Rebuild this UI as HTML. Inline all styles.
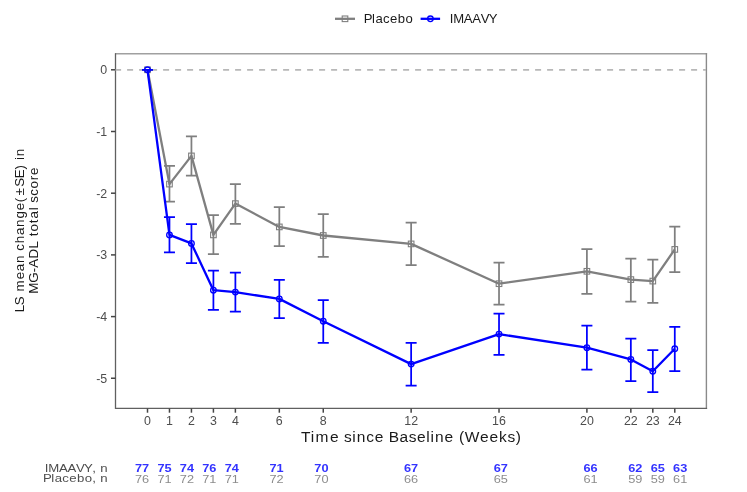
<!DOCTYPE html>
<html><head><meta charset="utf-8"><style>
html,body{margin:0;padding:0;background:#fff;}
body{width:747px;height:492px;overflow:hidden;font-family:"Liberation Sans",sans-serif;}
svg{display:block;will-change:transform;}
</style></head><body>
<svg width="747" height="492" viewBox="0 0 747 492">
<path d="M115 53.8H707.1" fill="none" stroke="#a0a0a0" stroke-width="1.4"/>
<path d="M706.4 53.2V409" fill="none" stroke="#8a8a8a" stroke-width="1.4"/>
<path d="M115.5 53.2V408.3H707.1" fill="none" stroke="#606060" stroke-width="1.3"/>
<path d="M115.1 69.9H706" stroke="#b8b8b8" stroke-width="1.6" stroke-dasharray="6 6" fill="none"/>
<path d="M111 69.80H115.5" stroke="#444" stroke-width="1.5"/>
<text x="107.2" y="74.30" text-anchor="end" font-size="12.4" fill="#4d4d4d" font-family="Liberation Sans, sans-serif">0</text>
<path d="M111 131.50H115.5" stroke="#444" stroke-width="1.5"/>
<text x="107.2" y="136.00" text-anchor="end" font-size="12.4" fill="#4d4d4d" font-family="Liberation Sans, sans-serif">-1</text>
<path d="M111 193.20H115.5" stroke="#444" stroke-width="1.5"/>
<text x="107.2" y="197.70" text-anchor="end" font-size="12.4" fill="#4d4d4d" font-family="Liberation Sans, sans-serif">-2</text>
<path d="M111 254.90H115.5" stroke="#444" stroke-width="1.5"/>
<text x="107.2" y="259.40" text-anchor="end" font-size="12.4" fill="#4d4d4d" font-family="Liberation Sans, sans-serif">-3</text>
<path d="M111 316.60H115.5" stroke="#444" stroke-width="1.5"/>
<text x="107.2" y="321.10" text-anchor="end" font-size="12.4" fill="#4d4d4d" font-family="Liberation Sans, sans-serif">-4</text>
<path d="M111 378.25H115.5" stroke="#444" stroke-width="1.5"/>
<text x="107.2" y="382.75" text-anchor="end" font-size="12.4" fill="#4d4d4d" font-family="Liberation Sans, sans-serif">-5</text>
<path d="M147.50 408.5V412.7" stroke="#444" stroke-width="1.5"/>
<text x="147.50" y="424.6" text-anchor="middle" font-size="12.4" fill="#4d4d4d" font-family="Liberation Sans, sans-serif">0</text>
<path d="M169.47 408.5V412.7" stroke="#444" stroke-width="1.5"/>
<text x="169.47" y="424.6" text-anchor="middle" font-size="12.4" fill="#4d4d4d" font-family="Liberation Sans, sans-serif">1</text>
<path d="M191.44 408.5V412.7" stroke="#444" stroke-width="1.5"/>
<text x="191.44" y="424.6" text-anchor="middle" font-size="12.4" fill="#4d4d4d" font-family="Liberation Sans, sans-serif">2</text>
<path d="M213.41 408.5V412.7" stroke="#444" stroke-width="1.5"/>
<text x="213.41" y="424.6" text-anchor="middle" font-size="12.4" fill="#4d4d4d" font-family="Liberation Sans, sans-serif">3</text>
<path d="M235.38 408.5V412.7" stroke="#444" stroke-width="1.5"/>
<text x="235.38" y="424.6" text-anchor="middle" font-size="12.4" fill="#4d4d4d" font-family="Liberation Sans, sans-serif">4</text>
<path d="M279.32 408.5V412.7" stroke="#444" stroke-width="1.5"/>
<text x="279.32" y="424.6" text-anchor="middle" font-size="12.4" fill="#4d4d4d" font-family="Liberation Sans, sans-serif">6</text>
<path d="M323.26 408.5V412.7" stroke="#444" stroke-width="1.5"/>
<text x="323.26" y="424.6" text-anchor="middle" font-size="12.4" fill="#4d4d4d" font-family="Liberation Sans, sans-serif">8</text>
<path d="M411.14 408.5V412.7" stroke="#444" stroke-width="1.5"/>
<text x="411.14" y="424.6" text-anchor="middle" font-size="12.4" fill="#4d4d4d" font-family="Liberation Sans, sans-serif">12</text>
<path d="M499.02 408.5V412.7" stroke="#444" stroke-width="1.5"/>
<text x="499.02" y="424.6" text-anchor="middle" font-size="12.4" fill="#4d4d4d" font-family="Liberation Sans, sans-serif">16</text>
<path d="M586.90 408.5V412.7" stroke="#444" stroke-width="1.5"/>
<text x="586.90" y="424.6" text-anchor="middle" font-size="12.4" fill="#4d4d4d" font-family="Liberation Sans, sans-serif">20</text>
<path d="M630.84 408.5V412.7" stroke="#444" stroke-width="1.5"/>
<text x="630.84" y="424.6" text-anchor="middle" font-size="12.4" fill="#4d4d4d" font-family="Liberation Sans, sans-serif">22</text>
<path d="M652.81 408.5V412.7" stroke="#444" stroke-width="1.5"/>
<text x="652.81" y="424.6" text-anchor="middle" font-size="12.4" fill="#4d4d4d" font-family="Liberation Sans, sans-serif">23</text>
<path d="M674.78 408.5V412.7" stroke="#444" stroke-width="1.5"/>
<text x="674.78" y="424.6" text-anchor="middle" font-size="12.4" fill="#4d4d4d" font-family="Liberation Sans, sans-serif">24</text>
<path d="M147.50 69.80V69.80M142.00 69.80H153.00M142.00 69.80H153.00" stroke="#7f7f7f" stroke-width="1.75" fill="none"/>
<path d="M169.47 165.90V201.70M163.97 165.90H174.97M163.97 201.70H174.97" stroke="#7f7f7f" stroke-width="1.75" fill="none"/>
<path d="M191.44 136.40V175.70M185.94 136.40H196.94M185.94 175.70H196.94" stroke="#7f7f7f" stroke-width="1.75" fill="none"/>
<path d="M213.41 215.10V254.10M207.91 215.10H218.91M207.91 254.10H218.91" stroke="#7f7f7f" stroke-width="1.75" fill="none"/>
<path d="M235.38 184.10V223.80M229.88 184.10H240.88M229.88 223.80H240.88" stroke="#7f7f7f" stroke-width="1.75" fill="none"/>
<path d="M279.32 207.20V246.20M273.82 207.20H284.82M273.82 246.20H284.82" stroke="#7f7f7f" stroke-width="1.75" fill="none"/>
<path d="M323.26 214.10V256.80M317.76 214.10H328.76M317.76 256.80H328.76" stroke="#7f7f7f" stroke-width="1.75" fill="none"/>
<path d="M411.14 222.50V265.20M405.64 222.50H416.64M405.64 265.20H416.64" stroke="#7f7f7f" stroke-width="1.75" fill="none"/>
<path d="M499.02 262.50V304.50M493.52 262.50H504.52M493.52 304.50H504.52" stroke="#7f7f7f" stroke-width="1.75" fill="none"/>
<path d="M586.90 249.00V293.80M581.40 249.00H592.40M581.40 293.80H592.40" stroke="#7f7f7f" stroke-width="1.75" fill="none"/>
<path d="M630.84 258.50V301.50M625.34 258.50H636.34M625.34 301.50H636.34" stroke="#7f7f7f" stroke-width="1.75" fill="none"/>
<path d="M652.81 259.50V302.80M647.31 259.50H658.31M647.31 302.80H658.31" stroke="#7f7f7f" stroke-width="1.75" fill="none"/>
<path d="M674.78 226.70V272.20M669.28 226.70H680.28M669.28 272.20H680.28" stroke="#7f7f7f" stroke-width="1.75" fill="none"/>
<polyline points="147.50,69.80 169.47,184.10 191.44,155.90 213.41,234.90 235.38,203.60 279.32,226.90 323.26,235.50 411.14,243.90 499.02,283.70 586.90,271.30 630.84,279.60 652.81,281.10 674.78,249.40" stroke="#7f7f7f" stroke-width="2.3" fill="none" stroke-linejoin="round"/>
<rect x="144.70" y="67.00" width="5.6" height="5.6" stroke="#7f7f7f" stroke-width="1.1" fill="none"/>
<rect x="166.67" y="181.30" width="5.6" height="5.6" stroke="#7f7f7f" stroke-width="1.1" fill="none"/>
<rect x="188.64" y="153.10" width="5.6" height="5.6" stroke="#7f7f7f" stroke-width="1.1" fill="none"/>
<rect x="210.61" y="232.10" width="5.6" height="5.6" stroke="#7f7f7f" stroke-width="1.1" fill="none"/>
<rect x="232.58" y="200.80" width="5.6" height="5.6" stroke="#7f7f7f" stroke-width="1.1" fill="none"/>
<rect x="276.52" y="224.10" width="5.6" height="5.6" stroke="#7f7f7f" stroke-width="1.1" fill="none"/>
<rect x="320.46" y="232.70" width="5.6" height="5.6" stroke="#7f7f7f" stroke-width="1.1" fill="none"/>
<rect x="408.34" y="241.10" width="5.6" height="5.6" stroke="#7f7f7f" stroke-width="1.1" fill="none"/>
<rect x="496.22" y="280.90" width="5.6" height="5.6" stroke="#7f7f7f" stroke-width="1.1" fill="none"/>
<rect x="584.10" y="268.50" width="5.6" height="5.6" stroke="#7f7f7f" stroke-width="1.1" fill="none"/>
<rect x="628.04" y="276.80" width="5.6" height="5.6" stroke="#7f7f7f" stroke-width="1.1" fill="none"/>
<rect x="650.01" y="278.30" width="5.6" height="5.6" stroke="#7f7f7f" stroke-width="1.1" fill="none"/>
<rect x="671.98" y="246.60" width="5.6" height="5.6" stroke="#7f7f7f" stroke-width="1.1" fill="none"/>
<path d="M147.50 69.80V69.80M142.00 69.80H153.00M142.00 69.80H153.00" stroke="#0000ff" stroke-width="1.75" fill="none"/>
<path d="M169.47 217.00V252.40M163.97 217.00H174.97M163.97 252.40H174.97" stroke="#0000ff" stroke-width="1.75" fill="none"/>
<path d="M191.44 224.20V263.10M185.94 224.20H196.94M185.94 263.10H196.94" stroke="#0000ff" stroke-width="1.75" fill="none"/>
<path d="M213.41 270.70V309.80M207.91 270.70H218.91M207.91 309.80H218.91" stroke="#0000ff" stroke-width="1.75" fill="none"/>
<path d="M235.38 272.60V311.60M229.88 272.60H240.88M229.88 311.60H240.88" stroke="#0000ff" stroke-width="1.75" fill="none"/>
<path d="M279.32 279.80V318.20M273.82 279.80H284.82M273.82 318.20H284.82" stroke="#0000ff" stroke-width="1.75" fill="none"/>
<path d="M323.26 300.10V342.80M317.76 300.10H328.76M317.76 342.80H328.76" stroke="#0000ff" stroke-width="1.75" fill="none"/>
<path d="M411.14 342.80V385.50M405.64 342.80H416.64M405.64 385.50H416.64" stroke="#0000ff" stroke-width="1.75" fill="none"/>
<path d="M499.02 313.50V354.80M493.52 313.50H504.52M493.52 354.80H504.52" stroke="#0000ff" stroke-width="1.75" fill="none"/>
<path d="M586.90 325.60V369.50M581.40 325.60H592.40M581.40 369.50H592.40" stroke="#0000ff" stroke-width="1.75" fill="none"/>
<path d="M630.84 338.70V381.00M625.34 338.70H636.34M625.34 381.00H636.34" stroke="#0000ff" stroke-width="1.75" fill="none"/>
<path d="M652.81 350.10V392.10M647.31 350.10H658.31M647.31 392.10H658.31" stroke="#0000ff" stroke-width="1.75" fill="none"/>
<path d="M674.78 326.80V371.20M669.28 326.80H680.28M669.28 371.20H680.28" stroke="#0000ff" stroke-width="1.75" fill="none"/>
<polyline points="147.50,69.80 169.47,234.90 191.44,243.40 213.41,290.20 235.38,292.10 279.32,298.90 323.26,321.20 411.14,364.10 499.02,334.10 586.90,347.70 630.84,359.40 652.81,371.20 674.78,348.80" stroke="#0000ff" stroke-width="2.3" fill="none" stroke-linejoin="round"/>
<circle cx="147.50" cy="69.80" r="2.8" stroke="#0000ff" stroke-width="1.3" fill="none"/>
<circle cx="169.47" cy="234.90" r="2.8" stroke="#0000ff" stroke-width="1.3" fill="none"/>
<circle cx="191.44" cy="243.40" r="2.8" stroke="#0000ff" stroke-width="1.3" fill="none"/>
<circle cx="213.41" cy="290.20" r="2.8" stroke="#0000ff" stroke-width="1.3" fill="none"/>
<circle cx="235.38" cy="292.10" r="2.8" stroke="#0000ff" stroke-width="1.3" fill="none"/>
<circle cx="279.32" cy="298.90" r="2.8" stroke="#0000ff" stroke-width="1.3" fill="none"/>
<circle cx="323.26" cy="321.20" r="2.8" stroke="#0000ff" stroke-width="1.3" fill="none"/>
<circle cx="411.14" cy="364.10" r="2.8" stroke="#0000ff" stroke-width="1.3" fill="none"/>
<circle cx="499.02" cy="334.10" r="2.8" stroke="#0000ff" stroke-width="1.3" fill="none"/>
<circle cx="586.90" cy="347.70" r="2.8" stroke="#0000ff" stroke-width="1.3" fill="none"/>
<circle cx="630.84" cy="359.40" r="2.8" stroke="#0000ff" stroke-width="1.3" fill="none"/>
<circle cx="652.81" cy="371.20" r="2.8" stroke="#0000ff" stroke-width="1.3" fill="none"/>
<circle cx="674.78" cy="348.80" r="2.8" stroke="#0000ff" stroke-width="1.3" fill="none"/>
<text x="300.93 310.75 315.62 329.96 339.27 343.98 352.26 356.67 366.18 374.68 384.00 388.68 399.50 408.63 416.91 426.35 430.61 435.02 444.60 453.91 458.91 464.75 480.06 489.50 499.10 507.53 515.82" y="441.9" font-size="15.5" fill="#1a1a1a" font-family="Liberation Sans, sans-serif">Time since Baseline (Weeks)</text>
<g transform="translate(23.7 230.25) rotate(-90)"><text x="-82.06 -74.97 -66.10 -61.32 -49.02 -40.94 -32.75 -24.62 -20.41 -13.00 -4.80 3.39 11.73 19.95 28.06 34.68 43.58 51.90 60.86 65.89 70.18 73.93" y="0" font-size="13.4" fill="#1a1a1a" font-family="Liberation Sans, sans-serif">LS mean change(±SE) in</text></g>
<g transform="translate(37.7 230.25) rotate(-90)"><text x="-63.59 -52.46 -42.01 -37.38 -28.18 -18.35 -10.73 -6.06 -1.32 7.14 11.88 19.98 23.52 27.55 34.59 41.85 50.07 55.32" y="0" font-size="13.4" fill="#1a1a1a" font-family="Liberation Sans, sans-serif">MG-ADL total score</text></g>
<path d="M335 18.8H355" stroke="#7f7f7f" stroke-width="2.3"/>
<rect x="342.2" y="16" width="5.6" height="5.6" stroke="#7f7f7f" stroke-width="1.1" fill="none"/>
<text x="363.66 372.06 375.42 383.02 389.91 397.69 405.45" y="23" font-size="13.1" fill="#1a1a1a" font-family="Liberation Sans, sans-serif">Placebo</text>
<path d="M420.6 18.8H440.1" stroke="#0000ff" stroke-width="2.3"/>
<circle cx="430.4" cy="18.8" r="2.8" stroke="#0000ff" stroke-width="1.3" fill="none"/>
<text x="449.79 453.27 463.87 472.29 480.70 488.66" y="23" font-size="13.1" fill="#1a1a1a" font-family="Liberation Sans, sans-serif">IMAAVY</text>
<g transform="translate(45.89 471.8) scale(1.12 1)"><text x="-1.09 2.06 11.62 19.22 26.81 34.00 41.45 44.97 48.61" y="0" font-size="11.8" fill="#4d4d4d" font-family="Liberation Sans, sans-serif">IMAAVY, n</text></g>
<g transform="translate(44.84 482.4) scale(1.12 1)"><text x="-1.68 5.84 8.81 15.59 21.73 28.66 35.58 42.38 45.91 49.55" y="0" font-size="11.8" fill="#4d4d4d" font-family="Liberation Sans, sans-serif">Placebo, n</text></g>
<text x="142.10" y="471.8" text-anchor="middle" font-size="11" font-weight="bold" fill="#3333ff" textLength="14.2" lengthAdjust="spacingAndGlyphs" font-family="Liberation Sans, sans-serif">77</text>
<text x="142.10" y="482.6" text-anchor="middle" font-size="11" fill="#8c8c8c" textLength="14.2" lengthAdjust="spacingAndGlyphs" font-family="Liberation Sans, sans-serif">76</text>
<text x="164.52" y="471.8" text-anchor="middle" font-size="11" font-weight="bold" fill="#3333ff" textLength="14.2" lengthAdjust="spacingAndGlyphs" font-family="Liberation Sans, sans-serif">75</text>
<text x="164.52" y="482.6" text-anchor="middle" font-size="11" fill="#8c8c8c" textLength="14.2" lengthAdjust="spacingAndGlyphs" font-family="Liberation Sans, sans-serif">71</text>
<text x="186.94" y="471.8" text-anchor="middle" font-size="11" font-weight="bold" fill="#3333ff" textLength="14.2" lengthAdjust="spacingAndGlyphs" font-family="Liberation Sans, sans-serif">74</text>
<text x="186.94" y="482.6" text-anchor="middle" font-size="11" fill="#8c8c8c" textLength="14.2" lengthAdjust="spacingAndGlyphs" font-family="Liberation Sans, sans-serif">72</text>
<text x="209.36" y="471.8" text-anchor="middle" font-size="11" font-weight="bold" fill="#3333ff" textLength="14.2" lengthAdjust="spacingAndGlyphs" font-family="Liberation Sans, sans-serif">76</text>
<text x="209.36" y="482.6" text-anchor="middle" font-size="11" fill="#8c8c8c" textLength="14.2" lengthAdjust="spacingAndGlyphs" font-family="Liberation Sans, sans-serif">71</text>
<text x="231.78" y="471.8" text-anchor="middle" font-size="11" font-weight="bold" fill="#3333ff" textLength="14.2" lengthAdjust="spacingAndGlyphs" font-family="Liberation Sans, sans-serif">74</text>
<text x="231.78" y="482.6" text-anchor="middle" font-size="11" fill="#8c8c8c" textLength="14.2" lengthAdjust="spacingAndGlyphs" font-family="Liberation Sans, sans-serif">71</text>
<text x="276.62" y="471.8" text-anchor="middle" font-size="11" font-weight="bold" fill="#3333ff" textLength="14.2" lengthAdjust="spacingAndGlyphs" font-family="Liberation Sans, sans-serif">71</text>
<text x="276.62" y="482.6" text-anchor="middle" font-size="11" fill="#8c8c8c" textLength="14.2" lengthAdjust="spacingAndGlyphs" font-family="Liberation Sans, sans-serif">72</text>
<text x="321.46" y="471.8" text-anchor="middle" font-size="11" font-weight="bold" fill="#3333ff" textLength="14.2" lengthAdjust="spacingAndGlyphs" font-family="Liberation Sans, sans-serif">70</text>
<text x="321.46" y="482.6" text-anchor="middle" font-size="11" fill="#8c8c8c" textLength="14.2" lengthAdjust="spacingAndGlyphs" font-family="Liberation Sans, sans-serif">70</text>
<text x="411.14" y="471.8" text-anchor="middle" font-size="11" font-weight="bold" fill="#3333ff" textLength="14.2" lengthAdjust="spacingAndGlyphs" font-family="Liberation Sans, sans-serif">67</text>
<text x="411.14" y="482.6" text-anchor="middle" font-size="11" fill="#8c8c8c" textLength="14.2" lengthAdjust="spacingAndGlyphs" font-family="Liberation Sans, sans-serif">66</text>
<text x="500.82" y="471.8" text-anchor="middle" font-size="11" font-weight="bold" fill="#3333ff" textLength="14.2" lengthAdjust="spacingAndGlyphs" font-family="Liberation Sans, sans-serif">67</text>
<text x="500.82" y="482.6" text-anchor="middle" font-size="11" fill="#8c8c8c" textLength="14.2" lengthAdjust="spacingAndGlyphs" font-family="Liberation Sans, sans-serif">65</text>
<text x="590.50" y="471.8" text-anchor="middle" font-size="11" font-weight="bold" fill="#3333ff" textLength="14.2" lengthAdjust="spacingAndGlyphs" font-family="Liberation Sans, sans-serif">66</text>
<text x="590.50" y="482.6" text-anchor="middle" font-size="11" fill="#8c8c8c" textLength="14.2" lengthAdjust="spacingAndGlyphs" font-family="Liberation Sans, sans-serif">61</text>
<text x="635.34" y="471.8" text-anchor="middle" font-size="11" font-weight="bold" fill="#3333ff" textLength="14.2" lengthAdjust="spacingAndGlyphs" font-family="Liberation Sans, sans-serif">62</text>
<text x="635.34" y="482.6" text-anchor="middle" font-size="11" fill="#8c8c8c" textLength="14.2" lengthAdjust="spacingAndGlyphs" font-family="Liberation Sans, sans-serif">59</text>
<text x="657.76" y="471.8" text-anchor="middle" font-size="11" font-weight="bold" fill="#3333ff" textLength="14.2" lengthAdjust="spacingAndGlyphs" font-family="Liberation Sans, sans-serif">65</text>
<text x="657.76" y="482.6" text-anchor="middle" font-size="11" fill="#8c8c8c" textLength="14.2" lengthAdjust="spacingAndGlyphs" font-family="Liberation Sans, sans-serif">59</text>
<text x="680.18" y="471.8" text-anchor="middle" font-size="11" font-weight="bold" fill="#3333ff" textLength="14.2" lengthAdjust="spacingAndGlyphs" font-family="Liberation Sans, sans-serif">63</text>
<text x="680.18" y="482.6" text-anchor="middle" font-size="11" fill="#8c8c8c" textLength="14.2" lengthAdjust="spacingAndGlyphs" font-family="Liberation Sans, sans-serif">61</text>
</svg>
</body></html>
